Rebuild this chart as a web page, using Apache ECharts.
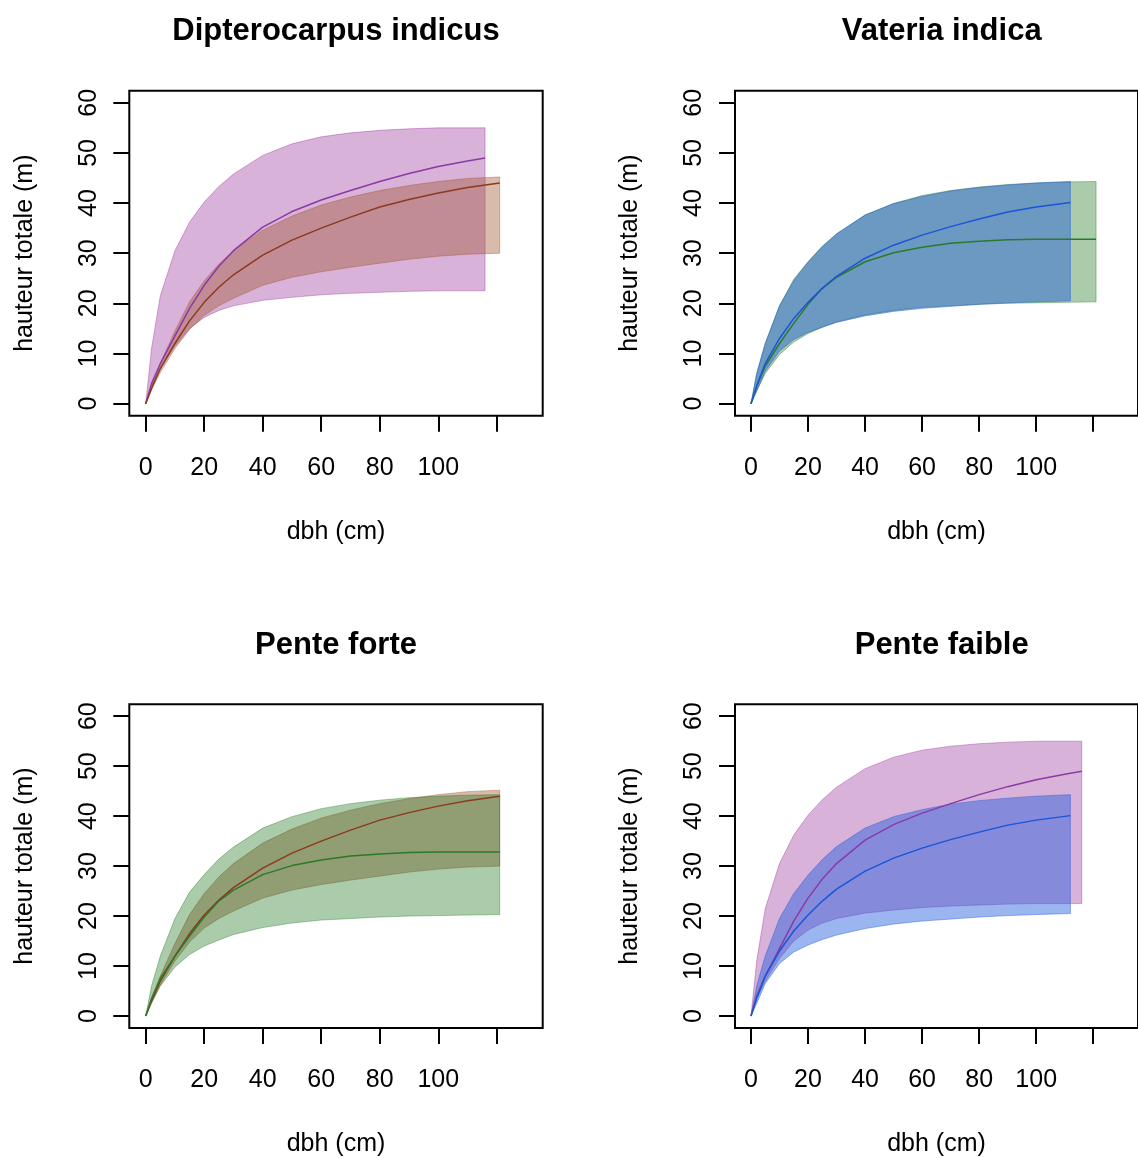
<!DOCTYPE html>
<html>
<head>
<meta charset="utf-8">
<script src="https://cdn.jsdelivr.net/npm/echarts@6/dist/echarts.min.js"></script>
<style>
html,body{margin:0;padding:0;background:#fff;}
#chart{width:1138px;height:1158px;}
</style>
</head>
<body>
<div id="chart"></div>
<script>
// ---- Data ----
// Dipterocarpus indicus, pente faible (purple)
const xA   = [0, 2, 5, 10, 15, 20, 25, 30, 40, 50, 60, 70, 80, 90, 100, 110, 116];
const A_up = [0, 11, 21.5, 30.5, 36.2, 40.2, 43.3, 45.8, 49.5, 51.8, 53.2, 54.0, 54.5, 54.8, 55.0, 55.0, 55.0];
const A_mid= [0, 4, 8, 13.5, 19.0, 23.6, 27.4, 30.5, 35.2, 38.3, 40.6, 42.5, 44.3, 45.9, 47.3, 48.4, 49.0];
const A_lo = [0, 3.5, 7, 11.5, 15, 17.2, 18.6, 19.5, 20.6, 21.2, 21.7, 22.0, 22.2, 22.4, 22.5, 22.5, 22.5];
// Dipterocarpus indicus, pente forte (brown)
const xB   = [0, 2, 5, 10, 15, 20, 25, 30, 40, 50, 60, 70, 80, 90, 100, 110, 121];
const B_up = [0, 3.5, 8, 14.5, 20.3, 24.5, 27.8, 30.5, 34.6, 37.4, 39.6, 41.2, 42.5, 43.5, 44.3, 44.9, 45.2];
const B_mid= [0, 3, 7, 12, 16.5, 20.2, 23.2, 25.7, 29.6, 32.6, 35.0, 37.2, 39.2, 40.7, 42.0, 43.1, 44.0];
const B_lo = [0, 2.8, 6.2, 11, 14.8, 17.6, 19.5, 21.0, 23.6, 25.2, 26.3, 27.2, 28.0, 28.8, 29.4, 29.8, 30.0];
// Vateria indica, pente faible (blue)
const xC   = [0, 2, 5, 10, 15, 20, 25, 30, 40, 50, 60, 70, 80, 90, 100, 112];
const C_up = [0, 6, 12, 19.5, 24.5, 28.2, 31.3, 33.9, 37.6, 39.9, 41.3, 42.4, 43.1, 43.6, 44.0, 44.3];
const C_mid= [0, 3.5, 8, 13, 17, 20.2, 23, 25.4, 29.0, 31.6, 33.6, 35.3, 36.8, 38.2, 39.2, 40.1];
const C_lo = [0, 2.5, 6.5, 10.5, 12.8, 14.2, 15.3, 16.2, 17.5, 18.4, 19.0, 19.4, 19.8, 20.1, 20.3, 20.5];
// Vateria indica, pente forte (green)
const xD   = [0, 2, 5, 10, 15, 20, 25, 30, 40, 50, 60, 70, 80, 90, 100, 110, 121];
const D_up = [0, 6, 12, 19.5, 24.8, 28.3, 31.4, 33.8, 37.6, 39.9, 41.5, 42.5, 43.2, 43.7, 44.0, 44.2, 44.3];
const D_mid= [0, 3.5, 7.5, 12, 16, 19.8, 23, 25.2, 28.3, 30.1, 31.2, 32.0, 32.4, 32.7, 32.8, 32.8, 32.8];
const D_lo = [0, 2.5, 6, 9.8, 12.3, 14.0, 15.2, 16.3, 17.7, 18.6, 19.2, 19.5, 19.8, 20.0, 20.1, 20.2, 20.3];

const titles = ['Dipterocarpus indicus', 'Vateria indica', 'Pente forte', 'Pente faible'];
const xTicks = [0, 20, 40, 60, 80, 100, 120];
const xTickLabels = [0, 20, 40, 60, 80, 100];
const yTicks = [0, 10, 20, 30, 40, 50, 60];
const xName = 'dbh (cm)';
const yName = 'hauteur totale (m)';

// ---- styles ----
const FONT = '"Liberation Sans", Arial, Helvetica, sans-serif';
const sty = {
  A: {fill: 'rgba(128,0,128,0.30)', line: '#8a3aa6'},
  B: {fill: 'rgba(160,82,45,0.40)', line: '#8b3a1e'},
  C: {fill: 'rgba(30,90,220,0.45)', line: '#1a55d8'},
  D: {fill: 'rgba(0,100,0,0.33)',   line: '#2a7a2a'}
};
const groups = {
  A: [xA, A_lo, A_mid, A_up],
  B: [xB, B_lo, B_mid, B_up],
  C: [xC, C_lo, C_mid, C_up],
  D: [xD, D_lo, D_mid, D_up]
};
// panel contents (drawing order)
const panels = [['A', 'B'], ['D', 'C'], ['B', 'D'], ['A', 'C']];

const boxW = 413.4, boxH = 325;
const lefts = [129.3, 735, 129.3, 735];
const tops = [90.7, 90.7, 704.2, 704.2];

const grid = [], xAxis = [], yAxis = [], series = [], graphic = [];

panels.forEach((keys, gi) => {
  grid.push({left: lefts[gi], top: tops[gi], width: boxW, height: boxH,
    show: true, borderColor: '#000', borderWidth: 2, backgroundColor: 'transparent'});
  xAxis.push({type: 'value', gridIndex: gi, min: -5.6, max: 135.7,
    axisLine: {show: false, onZero: false},
    splitLine: {show: false},
    axisTick: {show: true, length: 16, customValues: xTicks, lineStyle: {color: '#000', width: 2}},
    axisLabel: {customValues: xTickLabels, margin: 40, fontSize: 25, fontFamily: FONT, color: '#000'},
    name: xName, nameLocation: 'middle', nameGap: 104,
    nameTextStyle: {fontSize: 25, fontFamily: FONT, color: '#000'}});
  yAxis.push({type: 'value', gridIndex: gi, min: -2.4, max: 62.4,
    axisLine: {show: false, onZero: false},
    splitLine: {show: false},
    axisTick: {show: true, length: 16, customValues: yTicks, lineStyle: {color: '#000', width: 2}},
    axisLabel: {customValues: yTicks, rotate: 90, margin: 28, fontSize: 25, fontFamily: FONT, color: '#000'},
    name: yName, nameLocation: 'middle', nameGap: 92,
    nameTextStyle: {fontSize: 25, fontFamily: FONT, color: '#000'}});

  keys.forEach(k => {
    const [xs, lo, mid, up] = groups[k];
    const band = xs.map((x, i) => [x, lo[i], up[i]]);
    series.push({
      type: 'custom', xAxisIndex: gi, yAxisIndex: gi, silent: true,
      data: band, encode: {x: 0, y: [1, 2]},
      renderItem: (params, api) => {
        if (params.dataIndex !== 0) return null;
        const upper = band.map(d => api.coord([d[0], d[2]]));
        const lower = band.slice().reverse().map(d => api.coord([d[0], d[1]]));
        return {type: 'polygon', shape: {points: upper.concat(lower)},
          style: {fill: sty[k].fill, stroke: sty[k].fill, lineWidth: 1}};
      }
    });
    series.push({
      type: 'line', xAxisIndex: gi, yAxisIndex: gi, silent: true,
      data: xs.map((x, i) => [x, mid[i]]),
      showSymbol: false, symbol: 'none', smooth: false,
      lineStyle: {color: sty[k].line, width: 1.5}
    });
  });

  graphic.push({type: 'text', x: lefts[gi] + boxW / 2, y: tops[gi] - 59,
    style: {text: titles[gi], font: 'bold 31px ' + FONT, fill: '#000',
      align: 'center', verticalAlign: 'middle', textAlign: 'center', textVerticalAlign: 'middle'}});
});

const chart = echarts.init(document.getElementById('chart'), null, {renderer: 'canvas'});
chart.setOption({animation: false, backgroundColor: '#fff', grid, xAxis, yAxis, series, graphic});
</script>
</body>
</html>
